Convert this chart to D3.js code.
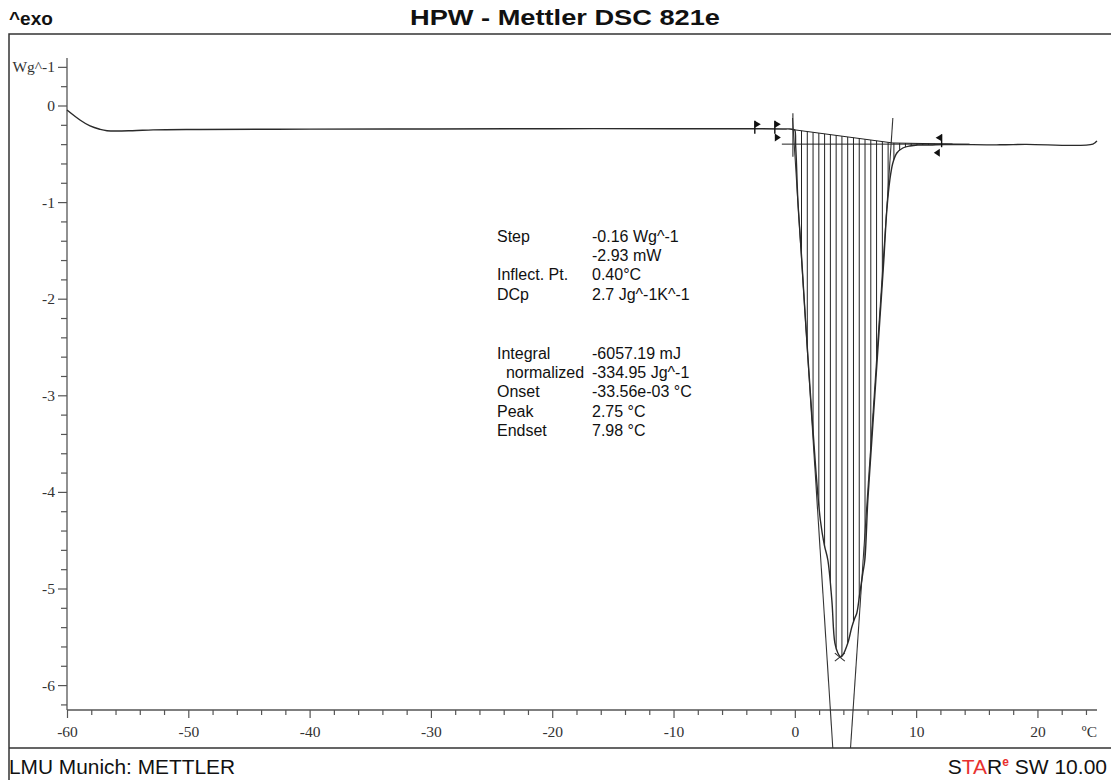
<!DOCTYPE html>
<html>
<head>
<meta charset="utf-8">
<script src="https://cdn.jsdelivr.net/npm/d3@7"></script>
<style>
  body { margin: 0; background: #fff; }
  text { font-family: "Liberation Sans", Arial, sans-serif; }
</style>
</head>
<body>
<div id="chart"></div>
<script>
// DSC curve: temperature (°C) and heat flow (W/g)
const curveTemp = [-60, -58.93, -58.1, -57.3, -56.7, -54.6, -52.9, -49.05, -40, -30, -20, -10, -4, -1, -0.41, -0.1,
    0, 0.066, 0.124, 0.247, 0.519, 0.824, 1.319, 1.731, 2.102, 2.432, 2.721, 3.05, 3.298, 3.545, 3.792,
    3.957, 4.369, 4.699, 4.946, 5.111, 5.359, 5.606, 5.771, 6.018, 6.348, 6.678, 7.007, 7.337, 7.585, 7.832, 8.079, 8.409,
    8.904, 9.481, 10.14, 11.13, 12.37, 16.9, 19.0, 24.57, 24.9];
const curveFlow = [-0.047, -0.15, -0.212, -0.246, -0.261, -0.261, -0.252, -0.248, -0.245, -0.243, -0.24, -0.24, -0.24, -0.243, -0.243, -0.25,
    -0.256, -0.409, -0.564, -0.978, -1.496, -2.117, -3.049, -3.773, -4.291, -4.55, -4.705, -5.119, -5.564, -5.668, -5.709,
    -5.688, -5.564, -5.399, -5.306, -5.254, -5.047, -4.84, -4.705, -4.084, -3.463, -2.842, -2.22, -1.599, -1.082, -0.771, -0.595, -0.492,
    -0.44, -0.419, -0.409, -0.409, -0.404, -0.407, -0.402, -0.4, -0.367];

// integration baseline of the peak
const baseTemp = [-0.25, 8.08, 13.0];
const baseFlow = [-0.248, -0.388, -0.399];

// lower step extension line
const stepLineTemp = [-1.07, 14.4];
const stepLineFlow = [-0.40, -0.40];

// tangents: [t1, w1, t2, w2]
const tangents = [
    [-0.16, -0.08, -0.16, -0.53],
    [-0.19, -0.129, 3.13, -6.651],
    [8.08, -0.129, 4.59, -6.651]
];

// evaluation limit markers
const markerTemp = [-3.3, -1.65, -1.65, 12.1, 11.95];
const markerFlow = [-0.24, -0.24, -0.33, -0.38, -0.49];
const markerDir = ["r", "r", "r", "l", "l"];
const markerStem = [true, true, false, true, false];

const peakTemp = 3.71;
const peakFlow = -5.71;

const xMajor = [-60, -50, -40, -30, -20, -10, 0, 10, 20];
const yMajor = [0, -1, -2, -3, -4, -5, -6];

const results1 = [["Step", "-0.16 Wg^-1"], ["", "-2.93 mW"], ["Inflect. Pt.", "0.40°C"], ["DCp", "2.7 Jg^-1K^-1"]];
const results2 = [["Integral", "-6057.19 mJ"], ["  normalized", "-334.95 Jg^-1"], ["Onset", "-33.56e-03 °C"], ["Peak", "2.75 °C"], ["Endset", "7.98 °C"]];

const width = 1111;
const height = 780;
const axisY = 710;
const axisX = 67;
const tickFont = "'Liberation Serif', 'Times New Roman', serif";

const svg = d3.select("#chart")
    .append("svg")
    .attr("width", width)
    .attr("height", height);

svg.append("rect").attr("width", width).attr("height", height).attr("fill", "#fff");

const xScale = d3.scaleLinear().domain([-60, 25]).range([67, 1098.1]);
const yScale = d3.scaleLinear().domain([0, -6]).range([105.5, 685.1]);

// frame
svg.append("path")
    .attr("d", `M9,${height}V34H${width + 5}M9,748H${width + 5}`)
    .attr("fill", "none")
    .attr("stroke", "#333")
    .attr("stroke-width", 1.5);

// title
svg.append("text")
    .attr("x", 410).attr("y", 25)
    .attr("textLength", 310).attr("lengthAdjust", "spacingAndGlyphs")
    .style("font-size", "22px").style("font-weight", "bold")
    .attr("fill", "#111")
    .text("HPW - Mettler DSC 821e");

svg.append("text")
    .attr("x", 9).attr("y", 25)
    .style("font-size", "19px").style("font-weight", "bold")
    .attr("fill", "#111")
    .text("^exo");

// footer
svg.append("text")
    .attr("x", 9).attr("y", 774)
    .attr("textLength", 226).attr("lengthAdjust", "spacingAndGlyphs")
    .style("font-size", "20px")
    .attr("fill", "#111")
    .text("LMU Munich: METTLER");

const star = svg.append("text")
    .attr("x", 1107).attr("y", 774)
    .attr("text-anchor", "end")
    .style("font-size", "21px")
    .attr("fill", "#111");
star.append("tspan").text("S");
star.append("tspan").attr("fill", "#e8312f").text("TA");
star.append("tspan").text("R");
star.append("tspan").attr("fill", "#e8312f").attr("dy", -8).style("font-size", "12px").style("font-weight", "bold").text("e");
star.append("tspan").attr("dy", 8).text(" SW 10.00");

// axes
const axisColor = "#555";
const xAxis = svg.append("g").attr("transform", `translate(0,${axisY})`);
xAxis.call(d3.axisBottom(xScale).tickValues(xMajor).tickSize(8).tickFormat(String));
xAxis.append("g").call(d3.axisBottom(xScale)
    .tickValues(d3.range(-58, 25, 2).filter(d => d % 10 !== 0)).tickSize(5).tickFormat(""));
xAxis.selectAll(".domain").remove();
xAxis.selectAll("line").attr("stroke", axisColor).attr("stroke-width", 1.2);
xAxis.selectAll("text").attr("fill", "#333").style("font-size", "15.5px")
    .style("font-family", tickFont).attr("y", 27).attr("dy", null);
xAxis.append("line").attr("x1", axisX).attr("x2", 1097).attr("stroke", axisColor).attr("stroke-width", 1.3);
svg.append("text")
    .attr("x", 1097).attr("y", 737)
    .attr("text-anchor", "end")
    .style("font-size", "15.5px").style("font-family", tickFont).attr("fill", "#333")
    .text("ºC");

const yAxis = svg.append("g").attr("transform", `translate(${axisX},0)`);
yAxis.call(d3.axisLeft(yScale).tickValues(yMajor.concat([0.4])).tickSize(9)
    .tickFormat(d => d === 0.4 ? "Wg^-1" : String(d)));
yAxis.append("g").call(d3.axisLeft(yScale)
    .tickValues(d3.range(0.2, -6.3, -0.2).map(d => Math.round(d * 10) / 10).filter(d => !Number.isInteger(d) && d !== 0.4))
    .tickSize(6).tickFormat(""));
yAxis.selectAll(".domain").remove();
yAxis.selectAll("line").attr("stroke", axisColor).attr("stroke-width", 1.2);
yAxis.selectAll("text").attr("fill", "#333").style("font-size", "15.5px")
    .style("font-family", tickFont);
yAxis.append("line").attr("y1", 58).attr("y2", axisY).attr("stroke", axisColor).attr("stroke-width", 1.3);

// hatch area between curve and baseline
const curveData = curveTemp.map((t, i) => [t, curveFlow[i]]);
const baseData = baseTemp.map((t, i) => [t, baseFlow[i]]);
const line = d3.line().x(d => xScale(d[0])).y(d => yScale(d[1]));
const smoothLine = d3.line().x(d => xScale(d[0])).y(d => yScale(d[1])).curve(d3.curveCatmullRom.alpha(0.5));

const clipPoly = curveData.filter(d => d[0] >= -0.25 && d[0] <= 13.0)
    .concat(baseData.slice().reverse());
svg.append("clipPath").attr("id", "peak-clip")
    .append("path").attr("d", line(clipPoly) + "Z");

svg.append("g")
    .attr("clip-path", "url(#peak-clip)")
    .selectAll("line")
    .data(d3.range(0.55, 13, 0.476))
    .enter()
    .append("line")
    .attr("x1", d => xScale(d)).attr("x2", d => xScale(d))
    .attr("y1", yScale(0)).attr("y2", yScale(-6))
    .attr("stroke", "#222")
    .attr("stroke-width", 1);

// baseline and step line
svg.append("path").attr("d", line(baseData))
    .attr("fill", "none").attr("stroke", "#222").attr("stroke-width", 1);
svg.append("path").attr("d", line(stepLineTemp.map((t, i) => [t, stepLineFlow[i]])))
    .attr("fill", "none").attr("stroke", "#222").attr("stroke-width", 1);

// tangents
svg.append("g").selectAll("line")
    .data(tangents)
    .enter()
    .append("line")
    .attr("x1", d => xScale(d[0])).attr("y1", d => yScale(d[1]))
    .attr("x2", d => xScale(d[2])).attr("y2", d => yScale(d[3]))
    .attr("stroke", "#333")
    .attr("stroke-width", 1.1);

// the measured curve
svg.append("path")
    .datum(curveData)
    .attr("d", smoothLine)
    .attr("fill", "none")
    .attr("stroke", "#2a2a2a")
    .attr("stroke-width", 1.4);

// markers
markerTemp.forEach((t, i) => {
    const mx = xScale(t);
    const my = yScale(markerFlow[i]);
    const s = markerDir[i] === "r" ? 1 : -1;
    const g = svg.append("g").attr("transform", `translate(${mx},${my})`);
    if (markerStem[i]) {
        g.append("line").attr("y1", -8).attr("y2", 5).attr("stroke", "#111").attr("stroke-width", 1.4);
        g.append("path").attr("d", `M0,-8L${6 * s},-4.5L0,-1Z`).attr("fill", "#111");
    } else {
        g.append("path").attr("d", `M0,-4L${6 * s},0L0,4Z`).attr("fill", "#111");
    }
});

// peak cross
const px = xScale(peakTemp), py = yScale(peakFlow);
svg.append("path")
    .attr("d", `M${px - 5},${py - 4}L${px + 5},${py + 4}M${px - 5},${py + 4}L${px + 5},${py - 4}`)
    .attr("stroke", "#333").attr("stroke-width", 1.1);

// evaluation results
const writeBlock = (rows, y0) => {
    rows.forEach((r, i) => {
        svg.append("text").attr("x", 497).attr("y", y0 + i * 19.4)
            .style("font-size", "16px").attr("fill", "#111")
            .attr("xml:space", "preserve").style("white-space", "pre")
            .text(r[0]);
        svg.append("text").attr("x", 592).attr("y", y0 + i * 19.4)
            .style("font-size", "16px").attr("fill", "#111")
            .text(r[1]);
    });
};
writeBlock(results1, 241.5);
writeBlock(results2, 358.5);
</script>
</body>
</html>
